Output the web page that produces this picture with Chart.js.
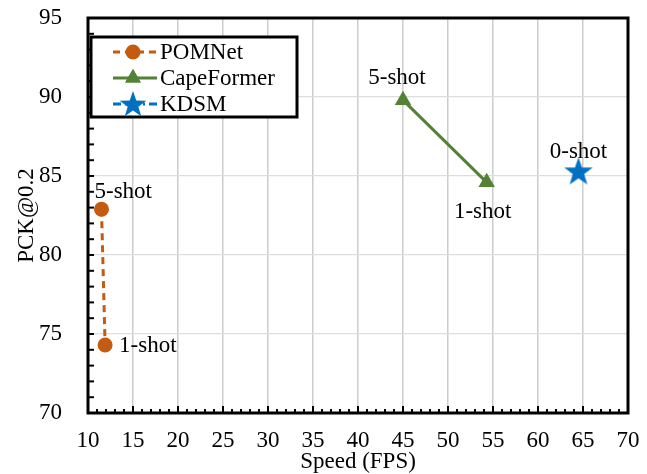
<!DOCTYPE html>
<html>
<head>
<meta charset="utf-8">
<script src="https://cdn.jsdelivr.net/npm/chart.js@4.4.1/dist/chart.umd.min.js"></script>
<style>
  html, body { margin: 0; padding: 0; background: #fff; }
  #wrap { width: 647px; height: 474px; }
</style>
</head>
<body>
<div id="wrap"><canvas id="speedChart" width="647" height="474"></canvas></div>
<script>
// data
const seriesNames = ['POMNet', 'CapeFormer', 'KDSM'];
const pomnetSpeed = [11.5, 11.9];
const pomnetPck = [82.9, 74.3];
const pomnetShots = ['5-shot', '1-shot'];
const capeSpeed = [45.0, 54.3];
const capePck = [89.8, 84.6];
const capeShots = ['5-shot', '1-shot'];
const kdsmSpeed = [64.5];
const kdsmPck = [85.3];
const kdsmShots = ['0-shot'];

const xTicks = { min: 10, max: 70, step: 5 };
const yTicks = { min: 70, max: 95, step: 5 };

const FONT = 'Liberation Serif';
const ORANGE = '#C55A11';
const GREEN = '#538135';
const BLUE = '#0070C0';

// where each "n-shot" text sits relative to its point (px)
const labelOffsets = [
    [{ dx: -7, dy: -17, align: 'left' }, { dx: 14, dy: 1, align: 'left' }],
    [{ dx: -6, dy: -22, align: 'center' }, { dx: -4, dy: 30, align: 'center' }],
    [{ dx: 0, dy: -19, align: 'center' }]
];

function toPoints(xs, ys) {
    return xs.map((x, i) => ({ x: x, y: ys[i] }));
}

// filled five point star used as a point style
function makeStar(size, color) {
    const c = document.createElement('canvas');
    c.width = size;
    c.height = size;
    const g = c.getContext('2d');
    const cx = size / 2, cy = size / 2 + 1;
    const outer = size / 2, inner = outer * 0.4;
    g.beginPath();
    for (let i = 0; i < 10; i++) {
        const r = i % 2 === 0 ? outer : inner;
        const a = -Math.PI / 2 + i * Math.PI / 5;
        const px = cx + r * Math.cos(a), py = cy + r * Math.sin(a);
        if (i === 0) g.moveTo(px, py); else g.lineTo(px, py);
    }
    g.closePath();
    g.fillStyle = color;
    g.fill();
    return c;
}
const starImg = makeStar(30, BLUE);
const starSmall = makeStar(28, BLUE);

const shotLabels = [pomnetShots, capeShots, kdsmShots];

const extrasPlugin = {
    id: 'extras',
    afterDatasetsDraw(chart) {
        const ctx = chart.ctx;
        const area = chart.chartArea;
        const xs = chart.scales.x, ys = chart.scales.y;
        ctx.save();

        // inward tick marks, every unit
        ctx.strokeStyle = '#000';
        ctx.lineWidth = 2;
        for (let v = xs.min; v <= xs.max; v++) {
            const px = xs.getPixelForValue(v);
            const len = v % 5 === 0 ? 7 : 4;
            ctx.beginPath();
            ctx.moveTo(px, area.bottom);
            ctx.lineTo(px, area.bottom - len);
            ctx.stroke();
        }
        for (let v = ys.min; v <= ys.max; v++) {
            const py = ys.getPixelForValue(v);
            ctx.beginPath();
            ctx.moveTo(area.left, py);
            ctx.lineTo(area.left + 6, py);
            ctx.stroke();
        }

        // frame
        ctx.lineWidth = 3;
        ctx.strokeRect(area.left, area.top, area.right - area.left, area.bottom - area.top);

        // point labels
        ctx.fillStyle = '#000';
        ctx.font = '23px "' + FONT + '"';
        ctx.textBaseline = 'middle';
        chart.data.datasets.forEach((ds, di) => {
            const meta = chart.getDatasetMeta(di);
            meta.data.forEach((el, pi) => {
                const off = labelOffsets[di][pi];
                ctx.textAlign = off.align;
                ctx.fillText(shotLabels[di][pi], el.x + off.dx, el.y + off.dy);
            });
        });

        // legend
        const box = { x: 91, y: 37, w: 206, h: 80 };
        ctx.fillStyle = '#fff';
        ctx.fillRect(box.x, box.y, box.w, box.h);
        ctx.lineWidth = 3;
        ctx.strokeStyle = '#000';
        ctx.strokeRect(box.x, box.y, box.w, box.h);
        const rows = [52, 78, 104];
        const styles = [
            { color: ORANGE, dash: [7, 5] },
            { color: GREEN, dash: [] },
            { color: BLUE, dash: [8, 4, 2, 4] }
        ];
        rows.forEach((ry, i) => {
            ctx.strokeStyle = styles[i].color;
            ctx.lineWidth = 3;
            ctx.setLineDash(styles[i].dash);
            ctx.beginPath();
            ctx.moveTo(113, ry);
            ctx.lineTo(157, ry);
            ctx.stroke();
            ctx.setLineDash([]);
            ctx.fillStyle = styles[i].color;
            if (i === 0) {
                ctx.beginPath();
                ctx.arc(133, ry, 7.5, 0, Math.PI * 2);
                ctx.fill();
            } else if (i === 1) {
                Chart.helpers.drawPoint(ctx, { pointStyle: 'triangle', radius: 9, borderWidth: 0 }, 133, ry);
                ctx.fill();
            } else {
                ctx.drawImage(starSmall, 133 - 14, ry - 14);
            }
            ctx.fillStyle = '#000';
            ctx.textAlign = 'left';
            ctx.fillText(seriesNames[i], 160, ry + 1);
        });

        ctx.restore();
    }
};

const chart = new Chart(document.getElementById('speedChart').getContext('2d'), {
    type: 'scatter',
    data: {
        datasets: [{
            label: seriesNames[0],
            data: toPoints(pomnetSpeed, pomnetPck),
            showLine: true,
            borderColor: ORANGE,
            backgroundColor: ORANGE,
            borderWidth: 3,
            borderDash: [7, 5],
            pointStyle: 'circle',
            pointRadius: 7.5,
            pointBorderWidth: 0
        }, {
            label: seriesNames[1],
            data: toPoints(capeSpeed, capePck),
            showLine: true,
            borderColor: GREEN,
            backgroundColor: GREEN,
            borderWidth: 3,
            pointStyle: 'triangle',
            pointRadius: 9.5,
            pointBorderWidth: 0
        }, {
            label: seriesNames[2],
            data: toPoints(kdsmSpeed, kdsmPck),
            showLine: false,
            borderColor: BLUE,
            backgroundColor: BLUE,
            pointStyle: starImg,
            pointRadius: 15
        }]
    },
    options: {
        responsive: false,
        animation: false,
        events: [],
        layout: { padding: { top: 18, right: 19, left: 0, bottom: 0 } },
        plugins: {
            legend: { display: false },
            tooltip: { enabled: false }
        },
        scales: {
            x: {
                type: 'linear',
                min: xTicks.min,
                max: xTicks.max,
                afterFit(scale) {
                    scale.height = 61;
                    scale.paddingLeft = 0;
                    scale.paddingRight = 0;
                },
                ticks: {
                    stepSize: xTicks.step,
                    color: '#000',
                    padding: 14,
                    maxRotation: 0,
                    font: { family: FONT, size: 23 }
                },
                grid: { color: '#cccccc', lineWidth: 1.5, drawTicks: false },
                border: { display: false },
                title: {
                    display: true,
                    text: 'Speed (FPS)',
                    color: '#000',
                    font: { family: FONT, size: 23, lineHeight: 1 },
                    padding: { top: 0, bottom: 1 }
                }
            },
            y: {
                type: 'linear',
                min: yTicks.min,
                max: yTicks.max,
                afterFit(scale) {
                    scale.width = 88;
                    scale.paddingTop = 0;
                    scale.paddingBottom = 0;
                },
                ticks: {
                    stepSize: yTicks.step,
                    color: '#000',
                    padding: 26,
                    font: { family: FONT, size: 23 }
                },
                grid: { color: '#dddddd', lineWidth: 1.2, drawTicks: false },
                border: { display: false },
                title: {
                    display: true,
                    text: 'PCK@0.2',
                    color: '#000',
                    font: { family: FONT, size: 23, lineHeight: 1 },
                    padding: { top: 15, bottom: 0 }
                }
            }
        }
    },
    plugins: [extrasPlugin]
});
</script>
</body>
</html>
